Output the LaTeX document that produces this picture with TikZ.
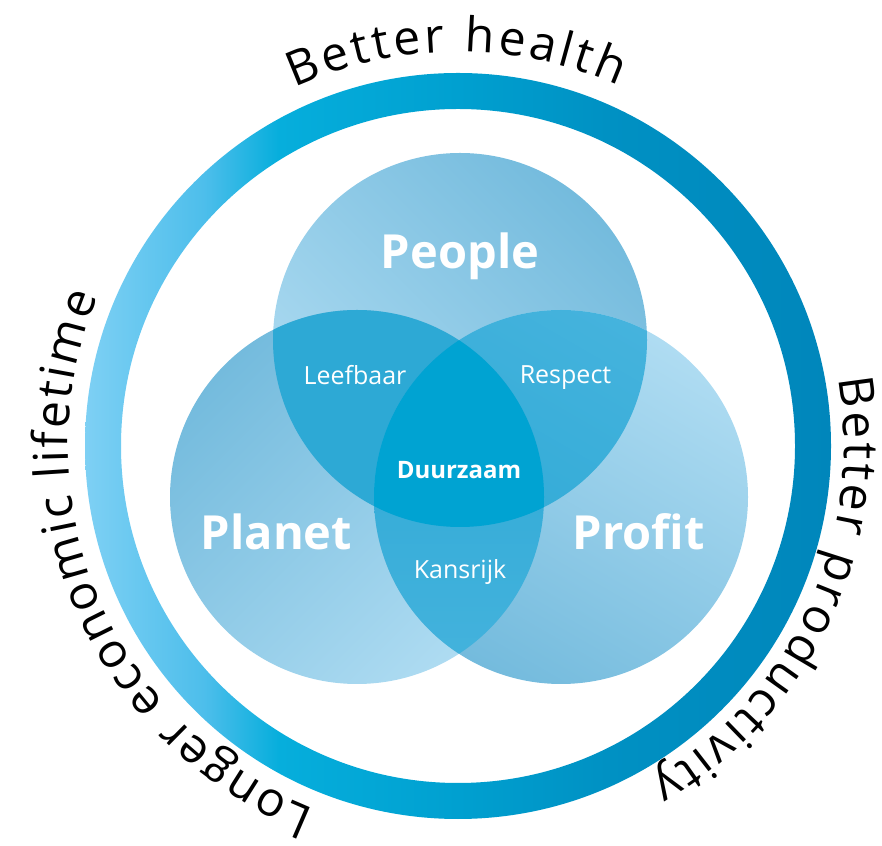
\documentclass[tikz,border=0pt]{standalone}
\usepackage{fontspec}
\setmainfont{Open Sans}
\newfontfamily\arcfont{Open Sans}
\usetikzlibrary{decorations.text}
\definecolor{ringA}{HTML}{7ED0F4}
\definecolor{ringB}{HTML}{4DBEEB}
\definecolor{ringC}{HTML}{06AEDC}
\definecolor{ringD}{HTML}{00A0D0}
\definecolor{ringE}{HTML}{0091C3}
\definecolor{ringF}{HTML}{0086BB}
\definecolor{cDark}{HTML}{74BBDD}
\definecolor{cLight}{HTML}{AFDCF2}
\definecolor{leefC}{HTML}{2DA9D5}
\definecolor{pairTop}{HTML}{45B3DD}
\definecolor{pairBot}{HTML}{29A7D4}
\definecolor{coreC}{HTML}{00A3D2}
\pgfdeclarehorizontalshading{ringshade}{100bp}{color(0bp)=(ringA); color(25bp)=(ringA); color(33bp)=(ringB); color(38bp)=(ringC); color(50bp)=(ringD); color(60bp)=(ringE); color(75bp)=(ringF); color(100bp)=(ringF)}
\begin{document}
\begin{tikzpicture}[x=1pt,y=1pt,
  bigl/.style={text=white, font=\bfseries\fontsize{47}{52}\selectfont, anchor=base, inner sep=0pt},
  smalll/.style={text=white, font=\fontsize{25}{30}\selectfont, anchor=base, inner sep=0pt},
  corel/.style={text=white, font=\bfseries\fontsize{24}{28}\selectfont, anchor=base, inner sep=0pt},
  arctext/.style={decorate, decoration={text along path, text align={fit to path}, text={|\arcfont\fontsize{48}{56}\selectfont|#1}}}]
\useasboundingbox (0,0) rectangle (882,845);
\coordinate (C) at (458,399);
\coordinate (Pe) at (460,505);
\coordinate (Pl) at (357,348);
\coordinate (Pr) at (561,348);
% ring
\shade[shading=ringshade, even odd rule] (C) circle[radius=373] (C) circle[radius=337];
% circles
\shade[top color=cDark, bottom color=cLight, shading angle=-45] (Pe) circle[radius=187];
\shade[top color=cDark, bottom color=cLight, shading angle=45] (Pl) circle[radius=187];
\shade[top color=cLight, bottom color=cDark, shading angle=-30] (Pr) circle[radius=187];
% pair regions
\begin{scope}
  \clip (Pe) circle[radius=187];
  \fill[leefC] (Pl) circle[radius=187];
\end{scope}
\begin{scope}
  \clip (Pe) circle[radius=187];
  \shade[top color=pairTop, bottom color=pairBot, shading angle=-30] (Pr) circle[radius=187];
\end{scope}
\begin{scope}
  \clip (Pl) circle[radius=187];
  \shade[top color=pairBot, bottom color=pairTop] (Pr) circle[radius=187];
\end{scope}
\begin{scope}
  \clip (Pe) circle[radius=187];
  \clip (Pl) circle[radius=187];
  \fill[coreC] (Pr) circle[radius=187];
\end{scope}
% labels
\node[bigl] (people) at (460,576) {People};
\node[bigl] (planet) at (276.5,295) {Planet};
\node[bigl] (profit) at (638.5,295) {Profit};
\node[smalll] (leef) at (355,460.7) {Leefbaar};
\node[smalll] (resp) at (565.5,461) {Respect};
\node[corel] (duur) at (459,366.7) {Duurzaam};
\node[smalll] (kans) at (460,266.7) {Kansrijk};
% arc texts
\path[arctext={Better health}, shift={(458,399)}] (114.5:394) arc[start angle=114.5, end angle=66, radius=394];
\path[arctext={Better productivity}, shift={(458,399)}] (10:386) arc[start angle=10, end angle=-60, radius=386];
\path[arctext={Longer economic lifetime}, shift={(458,399)}] (248.5:390) arc[start angle=248.5, end angle=157.5, radius=390];
\end{tikzpicture}
\end{document}
